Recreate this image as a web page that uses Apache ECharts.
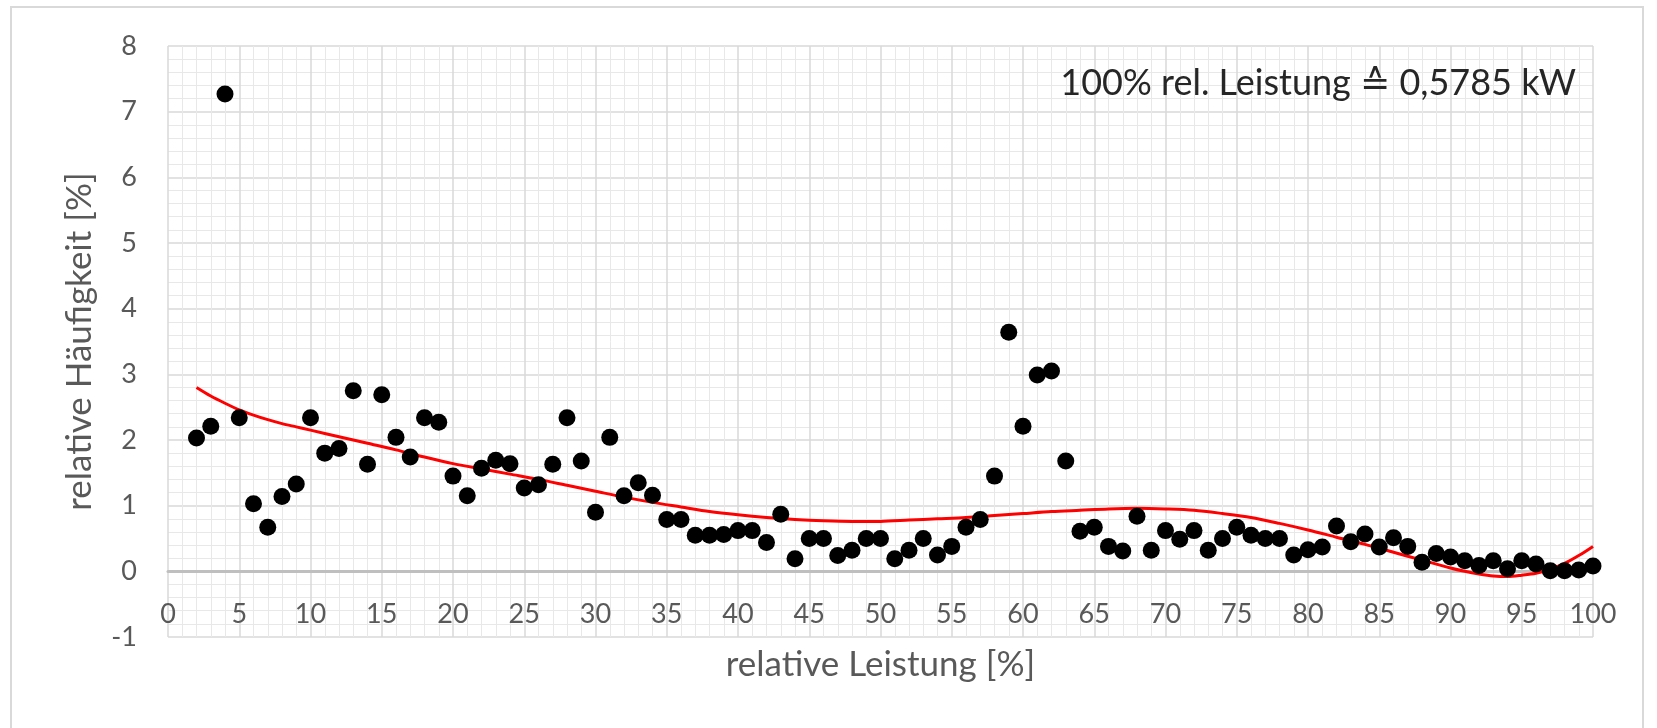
<!DOCTYPE html>
<html>
<head>
<meta charset="utf-8">
<script src="https://cdn.jsdelivr.net/npm/echarts@6/dist/echarts.min.js"></script>
<style>
html,body{margin:0;padding:0;background:#fff;}
#chart{width:1657px;height:728px;}
</style>
</head>
<body>
<div id="chart"></div>
<script>
// relative Leistung [%] (x) and relative Häufigkeit [%] (y)
const relLeistung = [2,3,4,5,6,7,8,9,10,11,12,13,14,15,16,17,18,19,20,21,22,23,24,25,26,27,28,29,30,31,32,33,34,35,36,37,38,39,40,41,42,43,44,45,46,47,48,49,50,51,52,53,54,55,56,57,58,59,60,61,62,63,64,65,66,67,68,69,70,71,72,73,74,75,76,77,78,79,80,81,82,83,84,85,86,87,88,89,90,91,92,93,94,95,96,97,98,99,100];
const relHaeufigkeit = [2.03,2.21,7.27,2.34,1.03,0.67,1.14,1.33,2.34,1.80,1.87,2.75,1.63,2.69,2.04,1.74,2.34,2.27,1.45,1.15,1.57,1.69,1.64,1.27,1.32,1.63,2.34,1.68,0.90,2.04,1.15,1.35,1.16,0.79,0.79,0.55,0.55,0.56,0.62,0.62,0.44,0.87,0.19,0.50,0.50,0.24,0.32,0.50,0.50,0.19,0.32,0.50,0.25,0.38,0.67,0.79,1.45,3.64,2.21,2.99,3.05,1.68,0.61,0.67,0.38,0.31,0.84,0.32,0.62,0.49,0.62,0.32,0.50,0.67,0.55,0.50,0.50,0.25,0.33,0.37,0.69,0.45,0.57,0.37,0.51,0.38,0.14,0.27,0.22,0.16,0.09,0.16,0.04,0.16,0.11,0.01,0.01,0.02,0.08];
// trend line (red)
const trendX = [2,3,4,5,6,7,8,9,10,12,14,16,18,20,22,24,26,28,30,32,34,36,38,40,42,44,46,48,50,52,54,56,58,60,62,64,66,68,70,72,74,76,78,80,82,84,86,88,90,91,92,93,94,95,96,97,98,99,100];
const trendY = [2.80,2.67,2.56,2.46,2.38,2.31,2.25,2.20,2.15,2.05,1.95,1.85,1.74,1.64,1.56,1.48,1.40,1.31,1.22,1.13,1.05,0.98,0.91,0.86,0.82,0.79,0.77,0.76,0.76,0.78,0.80,0.82,0.85,0.88,0.91,0.93,0.95,0.96,0.95,0.93,0.88,0.82,0.73,0.63,0.52,0.41,0.29,0.17,0.05,0.00,-0.04,-0.07,-0.08,-0.06,-0.03,0.03,0.12,0.24,0.38];
const xTitle = 'relative Leistung [%]';
const yTitle = 'relative Häufigkeit [%]';
const note = '100% rel. Leistung ≙ 0,5785 kW';

const FONT = 'Lato, "Open Sans", "DejaVu Sans", sans-serif';
const chart = echarts.init(document.getElementById('chart'), null, {renderer:'canvas'});
const points = relLeistung.map((x,i)=>[x, relHaeufigkeit[i]]);
const trend = trendX.map((x,i)=>[x, trendY[i]]);

chart.setOption({
  backgroundColor:'#ffffff',
  animation:false,
  grid:{left:168, right:64, top:46, bottom:91, containLabel:false, outerBoundsMode:'none'},
  xAxis:[{
    type:'value', min:0, max:100, interval:5, position:'bottom',
    name:xTitle, nameLocation:'middle', nameGap:10, nameMoveOverlap:false,
    nameTextStyle:{fontFamily:FONT, fontSize:35, color:'#595959'},
    axisLine:{show:false, onZero:false},
    axisTick:{show:false},
    axisLabel:{fontFamily:FONT, fontSize:27, color:'#595959', margin:-36},
    splitLine:{show:true, lineStyle:{color:'#d9d9d9', width:1.5}},
    minorTick:{show:false, splitNumber:5},
    minorSplitLine:{show:true, lineStyle:{color:'#e8e8e8', width:1}}
  },{
    type:'value', min:0, max:100, position:'bottom',
    axisLine:{show:true, onZero:true, lineStyle:{color:'#bfbfbf', width:3}},
    axisTick:{show:false}, axisLabel:{show:false}, splitLine:{show:false}
  }],
  yAxis:{
    type:'value', min:-1, max:8, interval:1,
    name:yTitle, nameLocation:'middle', nameGap:71, nameRotate:90, nameMoveOverlap:false,
    nameTextStyle:{fontFamily:FONT, fontSize:35, color:'#595959'},
    axisLine:{show:false},
    axisTick:{show:false},
    axisLabel:{fontFamily:FONT, fontSize:27, color:'#595959', margin:31},
    splitLine:{show:true, lineStyle:{color:'#d9d9d9', width:1.5}},
    minorTick:{show:false, splitNumber:5},
    minorSplitLine:{show:true, lineStyle:{color:'#e8e8e8', width:1}}
  },
  graphic:[
    {type:'rect', silent:true, z:-10, shape:{x:11, y:7, width:1632, height:740},
     style:{fill:'none', stroke:'#d9d9d9', lineWidth:2}},
    {type:'text', silent:true, z:100, x:1576, y:83,
     style:{text:note, fontFamily:FONT, fontSize:36, fill:'#262626', align:'right', verticalAlign:'middle'}}
  ],
  series:[
    {type:'line', xAxisIndex:0, data:trend, smooth:0.3, showSymbol:false, symbol:'none',
     lineStyle:{color:'#ff0000', width:3}, z:3},
    {type:'scatter', xAxisIndex:0, data:points, symbol:'circle', symbolSize:17,
     itemStyle:{color:'#000000', opacity:1}, z:4}
  ]
});
</script>
</body>
</html>
